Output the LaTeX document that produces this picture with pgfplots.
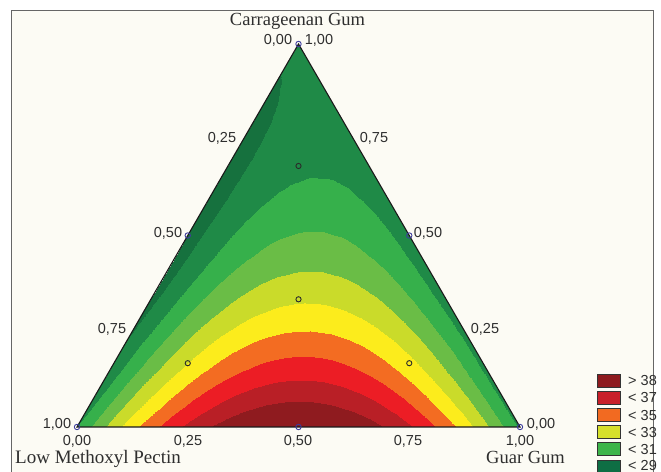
\documentclass[border=0pt]{standalone}
\usepackage{pgfplots}
\pgfplotsset{compat=1.18}
\usepackage{fontspec}
\setmainfont{Liberation Sans}
\newfontfamily\serifft{Liberation Serif}
\definecolor{g0}{HTML}{16713E}
\definecolor{g1}{HTML}{1F8A47}
\definecolor{g2}{HTML}{36B04B}
\definecolor{g3}{HTML}{6ABD46}
\definecolor{g4}{HTML}{CADB2A}
\definecolor{g5}{HTML}{FCEC1C}
\definecolor{g6}{HTML}{F36C22}
\definecolor{g7}{HTML}{EC1D25}
\definecolor{g8}{HTML}{B91F26}
\definecolor{g9}{HTML}{8F1B1F}
\definecolor{L1}{HTML}{8E1A1E}
\definecolor{L2}{HTML}{C81F29}
\definecolor{L3}{HTML}{F26A21}
\definecolor{L4}{HTML}{D6E02B}
\definecolor{L5}{HTML}{3DB54A}
\definecolor{L6}{HTML}{0E6E44}
\definecolor{bgc}{HTML}{FCFBF4}
\definecolor{framec}{HTML}{666666}
\definecolor{txt}{HTML}{2E2E2E}
\definecolor{ptb}{HTML}{3C3C9C}
\definecolor{pti}{HTML}{2A2A2A}
\begin{document}
\begin{tikzpicture}[x=1bp,y=1bp]
\useasboundingbox (0,0) rectangle (661,472);
\fill[white] (0,0) rectangle (661,472);
\filldraw[fill=bgc,draw=framec,line width=1bp] (11,-10) rectangle (653,461);
\begin{axis}[at={(0,0)},anchor=south west,scale only axis,width=661bp,height=472bp,
  xmin=0,xmax=661,ymin=0,ymax=472,axis lines=none,clip mode=individual,
  colormap={tern}{color(0)=(g0) color(2)=(g1) color(4)=(g2) color(6)=(g3) color(8)=(g4) color(10)=(g5) color(12)=(g6) color(14)=(g7) color(16)=(g8) color(18)=(g9) color(21)=(g9)},
  colormap access=piecewise constant, point meta min=28, point meta max=38.5]
\addplot[surf,shader=interp,mesh/cols=21,point meta=\thisrow{f}]
 table[row sep=\\, x expr={77+443*(\thisrow{i}+0.5*\thisrow{k})/20}, y expr={45+383*\thisrow{k}/20}] {
i k f\\
0 0 30.00\\ 1 0 31.59\\ 2 0 33.00\\ 3 0 34.25\\ 4 0 35.34\\ 5 0 36.25\\ 6 0 37.00\\ 7 0 37.57\\ 8 0 37.98\\ 9 0 38.23\\ 10 0 38.30\\ 11 0 38.21\\ 12 0 37.94\\ 13 0 37.51\\ 14 0 36.92\\ 15 0 36.15\\ 16 0 35.22\\ 17 0 34.11\\ 18 0 32.84\\ 19 0 31.41\\ 20 0 29.80\\
0 1 29.73\\ 1 1 31.25\\ 2 1 32.59\\ 3 1 33.77\\ 4 1 34.78\\ 5 1 35.62\\ 6 1 36.29\\ 7 1 36.80\\ 8 1 37.14\\ 9 1 37.31\\ 10 1 37.31\\ 11 1 37.14\\ 12 1 36.81\\ 13 1 36.31\\ 14 1 35.64\\ 15 1 34.80\\ 16 1 33.79\\ 17 1 32.62\\ 18 1 31.27\\ 19 1 29.76\\ 20 1 28.09\\
0 2 29.49\\ 1 2 30.93\\ 2 2 32.20\\ 3 2 33.31\\ 4 2 34.25\\ 5 2 35.02\\ 6 2 35.62\\ 7 2 36.05\\ 8 2 36.32\\ 9 2 36.41\\ 10 2 36.34\\ 11 2 36.10\\ 12 2 35.70\\ 13 2 35.12\\ 14 2 34.38\\ 15 2 33.47\\ 16 2 32.39\\ 17 2 31.14\\ 18 2 29.73\\ 19 2 28.15\\ 19 2 28.15\\
0 3 29.27\\ 1 3 30.64\\ 2 3 31.84\\ 3 3 32.87\\ 4 3 33.74\\ 5 3 34.44\\ 6 3 34.96\\ 7 3 35.33\\ 8 3 35.52\\ 9 3 35.54\\ 10 3 35.40\\ 11 3 35.09\\ 12 3 34.61\\ 13 3 33.96\\ 14 3 33.15\\ 15 3 32.17\\ 16 3 31.01\\ 17 3 29.70\\ 18 3 28.21\\ 18 3 28.21\\ 18 3 28.21\\
0 4 29.08\\ 1 4 30.37\\ 2 4 31.50\\ 3 4 32.46\\ 4 4 33.25\\ 5 4 33.88\\ 6 4 34.34\\ 7 4 34.62\\ 8 4 34.75\\ 9 4 34.70\\ 10 4 34.48\\ 11 4 34.10\\ 12 4 33.55\\ 13 4 32.83\\ 14 4 31.94\\ 15 4 30.89\\ 16 4 29.66\\ 17 4 28.27\\ 17 4 28.27\\ 17 4 28.27\\ 17 4 28.27\\
0 5 28.91\\ 1 5 30.13\\ 2 5 31.19\\ 3 5 32.08\\ 4 5 32.80\\ 5 5 33.35\\ 6 5 33.73\\ 7 5 33.95\\ 8 5 34.00\\ 9 5 33.88\\ 10 5 33.59\\ 11 5 33.13\\ 12 5 32.51\\ 13 5 31.72\\ 14 5 30.76\\ 15 5 29.63\\ 16 5 28.34\\ 16 5 28.34\\ 16 5 28.34\\ 16 5 28.34\\ 16 5 28.34\\
0 6 28.76\\ 1 6 29.91\\ 2 6 30.90\\ 3 6 31.71\\ 4 6 32.36\\ 5 6 32.84\\ 6 6 33.15\\ 7 6 33.30\\ 8 6 33.27\\ 9 6 33.08\\ 10 6 32.72\\ 11 6 32.19\\ 12 6 31.50\\ 13 6 30.63\\ 14 6 29.60\\ 15 6 28.40\\ 15 6 28.40\\ 15 6 28.40\\ 15 6 28.40\\ 15 6 28.40\\ 15 6 28.40\\
0 7 28.64\\ 1 7 29.72\\ 2 7 30.63\\ 3 7 31.38\\ 4 7 31.95\\ 5 7 32.36\\ 6 7 32.60\\ 7 7 32.67\\ 8 7 32.57\\ 9 7 32.31\\ 10 7 31.88\\ 11 7 31.28\\ 12 7 30.51\\ 13 7 29.57\\ 14 7 28.47\\ 14 7 28.47\\ 14 7 28.47\\ 14 7 28.47\\ 14 7 28.47\\ 14 7 28.47\\ 14 7 28.47\\
0 8 28.54\\ 1 8 29.55\\ 2 8 30.39\\ 3 8 31.06\\ 4 8 31.57\\ 5 8 31.90\\ 6 8 32.07\\ 7 8 32.07\\ 8 8 31.90\\ 9 8 31.56\\ 10 8 31.06\\ 11 8 30.39\\ 12 8 29.54\\ 13 8 28.54\\ 13 8 28.54\\ 13 8 28.54\\ 13 8 28.54\\ 13 8 28.54\\ 13 8 28.54\\ 13 8 28.54\\ 13 8 28.54\\
0 9 28.47\\ 1 9 29.41\\ 2 9 30.17\\ 3 9 30.77\\ 4 9 31.20\\ 5 9 31.47\\ 6 9 31.56\\ 7 9 31.49\\ 8 9 31.25\\ 9 9 30.84\\ 10 9 30.26\\ 11 9 29.52\\ 12 9 28.61\\ 12 9 28.61\\ 12 9 28.61\\ 12 9 28.61\\ 12 9 28.61\\ 12 9 28.61\\ 12 9 28.61\\ 12 9 28.61\\ 12 9 28.61\\
0 10 28.43\\ 1 10 29.29\\ 2 10 29.98\\ 3 10 30.51\\ 4 10 30.87\\ 5 10 31.06\\ 6 10 31.08\\ 7 10 30.94\\ 8 10 30.62\\ 9 10 30.14\\ 10 10 29.49\\ 11 10 28.68\\ 11 10 28.68\\ 11 10 28.68\\ 11 10 28.68\\ 11 10 28.68\\ 11 10 28.68\\ 11 10 28.68\\ 11 10 28.68\\ 11 10 28.68\\ 11 10 28.68\\
0 11 28.40\\ 1 11 29.19\\ 2 11 29.82\\ 3 11 30.27\\ 4 11 30.56\\ 5 11 30.67\\ 6 11 30.62\\ 7 11 30.41\\ 8 11 30.02\\ 9 11 29.47\\ 10 11 28.75\\ 10 11 28.75\\ 10 11 28.75\\ 10 11 28.75\\ 10 11 28.75\\ 10 11 28.75\\ 10 11 28.75\\ 10 11 28.75\\ 10 11 28.75\\ 10 11 28.75\\ 10 11 28.75\\
0 12 28.40\\ 1 12 29.12\\ 2 12 29.67\\ 3 12 30.05\\ 4 12 30.27\\ 5 12 30.31\\ 6 12 30.19\\ 7 12 29.90\\ 8 12 29.44\\ 9 12 28.82\\ 9 12 28.82\\ 9 12 28.82\\ 9 12 28.82\\ 9 12 28.82\\ 9 12 28.82\\ 9 12 28.82\\ 9 12 28.82\\ 9 12 28.82\\ 9 12 28.82\\ 9 12 28.82\\ 9 12 28.82\\
0 13 28.43\\ 1 13 29.08\\ 2 13 29.55\\ 3 13 29.86\\ 4 13 30.01\\ 5 13 29.98\\ 6 13 29.79\\ 7 13 29.42\\ 8 13 28.89\\ 8 13 28.89\\ 8 13 28.89\\ 8 13 28.89\\ 8 13 28.89\\ 8 13 28.89\\ 8 13 28.89\\ 8 13 28.89\\ 8 13 28.89\\ 8 13 28.89\\ 8 13 28.89\\ 8 13 28.89\\ 8 13 28.89\\
0 14 28.48\\ 1 14 29.05\\ 2 14 29.46\\ 3 14 29.70\\ 4 14 29.77\\ 5 14 29.67\\ 6 14 29.40\\ 7 14 28.97\\ 7 14 28.97\\ 7 14 28.97\\ 7 14 28.97\\ 7 14 28.97\\ 7 14 28.97\\ 7 14 28.97\\ 7 14 28.97\\ 7 14 28.97\\ 7 14 28.97\\ 7 14 28.97\\ 7 14 28.97\\ 7 14 28.97\\ 7 14 28.97\\
0 15 28.56\\ 1 15 29.06\\ 2 15 29.39\\ 3 15 29.56\\ 4 15 29.55\\ 5 15 29.38\\ 6 15 29.04\\ 6 15 29.04\\ 6 15 29.04\\ 6 15 29.04\\ 6 15 29.04\\ 6 15 29.04\\ 6 15 29.04\\ 6 15 29.04\\ 6 15 29.04\\ 6 15 29.04\\ 6 15 29.04\\ 6 15 29.04\\ 6 15 29.04\\ 6 15 29.04\\ 6 15 29.04\\
0 16 28.66\\ 1 16 29.08\\ 2 16 29.35\\ 3 16 29.44\\ 4 16 29.36\\ 5 16 29.12\\ 5 16 29.12\\ 5 16 29.12\\ 5 16 29.12\\ 5 16 29.12\\ 5 16 29.12\\ 5 16 29.12\\ 5 16 29.12\\ 5 16 29.12\\ 5 16 29.12\\ 5 16 29.12\\ 5 16 29.12\\ 5 16 29.12\\ 5 16 29.12\\ 5 16 29.12\\ 5 16 29.12\\
0 17 28.78\\ 1 17 29.14\\ 2 17 29.33\\ 3 17 29.35\\ 4 17 29.20\\ 4 17 29.20\\ 4 17 29.20\\ 4 17 29.20\\ 4 17 29.20\\ 4 17 29.20\\ 4 17 29.20\\ 4 17 29.20\\ 4 17 29.20\\ 4 17 29.20\\ 4 17 29.20\\ 4 17 29.20\\ 4 17 29.20\\ 4 17 29.20\\ 4 17 29.20\\ 4 17 29.20\\ 4 17 29.20\\
0 18 28.93\\ 1 18 29.21\\ 2 18 29.33\\ 3 18 29.28\\ 3 18 29.28\\ 3 18 29.28\\ 3 18 29.28\\ 3 18 29.28\\ 3 18 29.28\\ 3 18 29.28\\ 3 18 29.28\\ 3 18 29.28\\ 3 18 29.28\\ 3 18 29.28\\ 3 18 29.28\\ 3 18 29.28\\ 3 18 29.28\\ 3 18 29.28\\ 3 18 29.28\\ 3 18 29.28\\ 3 18 29.28\\
0 19 29.10\\ 1 19 29.31\\ 2 19 29.36\\ 2 19 29.36\\ 2 19 29.36\\ 2 19 29.36\\ 2 19 29.36\\ 2 19 29.36\\ 2 19 29.36\\ 2 19 29.36\\ 2 19 29.36\\ 2 19 29.36\\ 2 19 29.36\\ 2 19 29.36\\ 2 19 29.36\\ 2 19 29.36\\ 2 19 29.36\\ 2 19 29.36\\ 2 19 29.36\\ 2 19 29.36\\ 2 19 29.36\\
0 20 29.30\\ 1 20 29.44\\ 1 20 29.44\\ 1 20 29.44\\ 1 20 29.44\\ 1 20 29.44\\ 1 20 29.44\\ 1 20 29.44\\ 1 20 29.44\\ 1 20 29.44\\ 1 20 29.44\\ 1 20 29.44\\ 1 20 29.44\\ 1 20 29.44\\ 1 20 29.44\\ 1 20 29.44\\ 1 20 29.44\\ 1 20 29.44\\ 1 20 29.44\\ 1 20 29.44\\ 1 20 29.44\\
};
% mask the part of the mesh that lies right of the Guar--Carrageenan edge
\addplot[draw=none,fill=bgc] coordinates {(520,45) (585,45) (358,430) (298.5,428)} -- cycle;
% triangle outline
\addplot[draw=black!90,line width=1.1bp] coordinates {(77,45) (520,45) (298.5,428)} -- cycle;
% design points
\addplot[only marks,mark=o,mark size=2.7bp,mark options={draw=ptb,line width=0.9bp}]
 coordinates {(77,45) (520,45) (298.5,428) (298.5,45) (187.75,236.5) (409.25,236.5)};
\addplot[only marks,mark=o,mark size=2.6bp,mark options={draw=pti,line width=0.9bp}]
 coordinates {(298.5,172.7) (187.75,108.8) (409.25,108.8) (298.5,306)};
% titles
\node[anchor=base,text=txt,font=\serifft\fontsize{18.5bp}{20bp}\selectfont] at (297.5,446) {Carrageenan Gum};
\node[anchor=base west,text=txt,inner sep=0pt,font=\serifft\fontsize{19bp}{21bp}\selectfont] at (15,8.6) {Low Methoxyl Pectin};
\node[anchor=base east,text=txt,inner sep=0pt,font=\serifft\fontsize{18.5bp}{20bp}\selectfont] at (565,8.6) {Guar Gum};
% tick labels
\begin{scope}[every node/.style={anchor=base,text=txt,inner sep=0pt,font=\fontsize{14.5bp}{16bp}\selectfont}]
\node at (278,427.8) {0,00};
\node at (319,427.8) {1,00};
\node at (222,329.8) {0,25};
\node at (374,329.8) {0,75};
\node at (168,234.8) {0,50};
\node at (428,234.8) {0,50};
\node at (112,138.8) {0,75};
\node at (485,138.8) {0,25};
\node at (57,43.8) {1,00};
\node at (541,43.8) {0,00};
\node at (77,26.2) {0,00};
\node at (188,26.2) {0,25};
\node at (298,26.2) {0,50};
\node at (408,26.2) {0,75};
\node at (520,26.2) {1,00};
\end{scope}
% legend
\begin{scope}[every node/.style={anchor=base west,text=txt,inner sep=0pt,font=\fontsize{14.5bp}{16bp}\selectfont}]
\filldraw[fill=L1,draw=black!80,line width=0.8bp] (597,85) rectangle (620,98);
\filldraw[fill=L2,draw=black!80,line width=0.8bp] (597,67.8) rectangle (620,80.8);
\filldraw[fill=L3,draw=black!80,line width=0.8bp] (597,50.6) rectangle (620,63.6);
\filldraw[fill=L4,draw=black!80,line width=0.8bp] (597,33.4) rectangle (620,46.4);
\filldraw[fill=L5,draw=black!80,line width=0.8bp] (597,16.2) rectangle (620,29.2);
\filldraw[fill=L6,draw=black!80,line width=0.8bp] (597,-1) rectangle (620,12);
\node at (628,86.3) {> 38};
\node at (628,69.1) {< 37};
\node at (628,51.9) {< 35};
\node at (628,34.7) {< 33};
\node at (628,17.5) {< 31};
\node at (628,1.6) {< 29};
\end{scope}
\end{axis}
\end{tikzpicture}
\end{document}
